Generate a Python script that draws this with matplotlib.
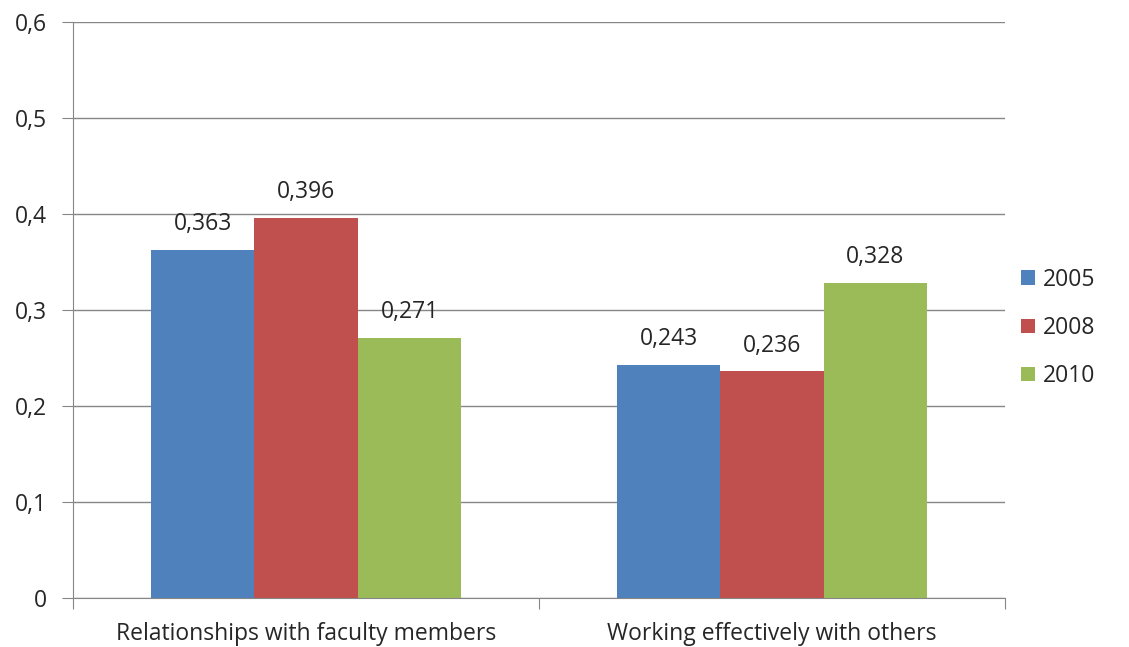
import numpy as np
import matplotlib.pyplot as plt

plt.rcParams['font.family'] = ['Open Sans', 'DejaVu Sans']

categories = ["Relationships with faculty members", "Working effectively with others"]
years = ["2005", "2008", "2010"]
values = {
    "2005": [0.363, 0.243],
    "2008": [0.396, 0.236],
    "2010": [0.271, 0.328],
}
labels = {
    "2005": ["0,363", "0,243"],
    "2008": ["0,396", "0,236"],
    "2010": ["0,271", "0,328"],
}
colors = ["#4F81BD", "#C0504D", "#9BBB59"]
yticks = [0, 0.1, 0.2, 0.3, 0.4, 0.5, 0.6]
ytick_labels = ["0", "0,1", "0,2", "0,3", "0,4", "0,5", "0,6"]

fig = plt.figure(figsize=(11.29, 6.47), dpi=100)
ax = fig.add_axes([0.0647, 0.0757, 0.8255, 0.8903])

x = np.arange(len(categories))
width = 0.222
grey = "#868686"
text_col = "#262626"
fs = 16.5

for i, yr in enumerate(years):
    pos = x + (i - 1) * width
    bars = ax.bar(pos, values[yr], width, color=colors[i], label=yr, zorder=2)
    for b, lab in zip(bars, labels[yr]):
        ax.annotate(lab, (b.get_x() + b.get_width() / 2, b.get_height()),
                    xytext=(0, 10), textcoords="offset points",
                    ha="center", va="bottom", fontsize=fs, color=text_col)

ax.set_xlim(-0.5, 1.5)
ax.set_ylim(0, 0.6)
ax.set_yticks(yticks)
ax.set_yticklabels(ytick_labels)
ax.set_xticks([-0.5, 0.5, 1.5])
ax.set_xticklabels([])
ax.set_xticks(x, minor=True)
ax.set_xticklabels(categories, minor=True)
ax.tick_params(axis="x", which="minor", length=0, pad=17, labelsize=fs, labelcolor=text_col)
ax.tick_params(axis="x", which="major", length=8, color=grey, direction="out")
ax.tick_params(axis="y", length=8, color=grey, pad=11, labelsize=fs, labelcolor=text_col)

ax.grid(axis="y", color=grey, linewidth=1, zorder=0)
ax.set_axisbelow(True)
for side in ["top", "right"]:
    ax.spines[side].set_visible(False)
for side in ["left", "bottom"]:
    ax.spines[side].set_color(grey)

ax.legend(loc="center left", bbox_to_anchor=(0.995, 0.469), frameon=False,
          fontsize=fs, handlelength=0.6, handleheight=0.6, handletextpad=0.35,
          labelspacing=1.05, labelcolor=text_col)

fig.savefig("out.png", dpi=100)
